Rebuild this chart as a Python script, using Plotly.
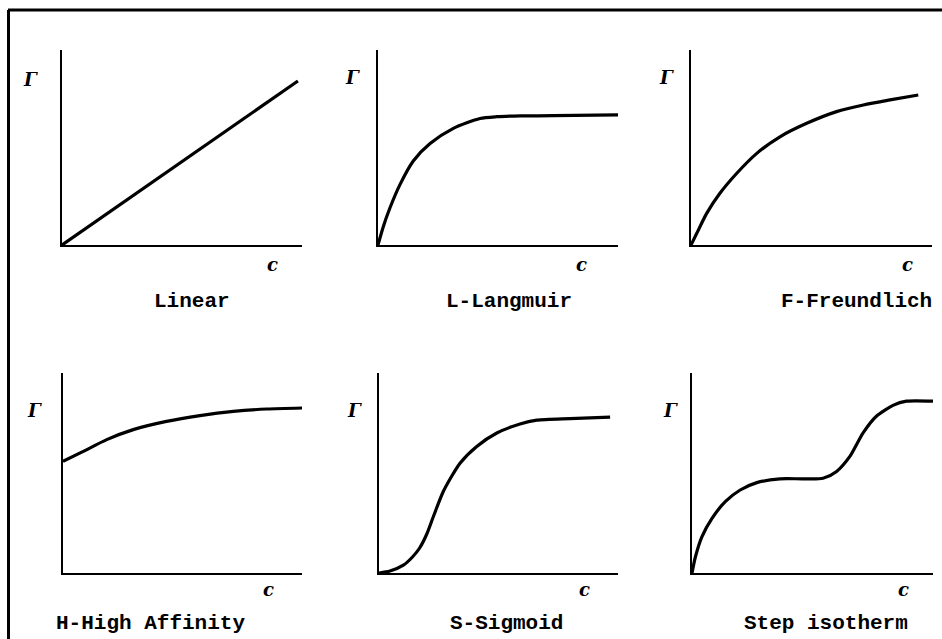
import plotly.graph_objects as go

W, H = 942, 639

titles = ["Linear", "L-Langmuir", "F-Freundlich", "H-High Affinity", "S-Sigmoid", "Step isotherm"]

linear_x = [0, 98.3]
linear_y = [0, 84.1]

langmuir_x = [0, 2.2, 5, 9.2, 14.7, 21.7, 31.4, 42.5, 49.5, 59.2, 73, 100]
langmuir_y = [0, 9.4, 19.1, 31.1, 43.1, 52, 59.8, 64.9, 65.8, 66.2, 66.3, 66.7]

freundlich_x = [0, 2.4, 6.5, 12.0, 19.0, 27.3, 36.9, 48.0, 60.4, 71.5, 82.6, 94.3]
freundlich_y = [0, 6.0, 16.2, 26.5, 36.8, 47.0, 55.5, 62.4, 68.4, 71.8, 74.4, 76.9]

high_x = [0, 8.5, 18.3, 29.4, 43.3, 57.3, 71.3, 85.2, 100]
high_y = [55.8, 60.8, 66.7, 71.7, 75.8, 78.7, 80.8, 82.0, 82.5]

sigmoid_x = [0, 4.6, 10.2, 14.0, 17.0, 20.0, 23.0, 27.0, 33.9, 40.9, 49.3, 59.0, 66.0, 79.9, 96.7]
sigmoid_y = [0, 1.0, 3.9, 8.0, 12.5, 19.5, 29.0, 41.0, 54.9, 63.3, 70.0, 74.5, 76.4, 77.2, 77.9]

step_x = [0, 1.4, 4.1, 8.3, 13.8, 20.0, 26.9, 36.5, 46.2, 54.4, 60.0, 65.5, 71.0, 76.5, 83.4, 89.0, 100]
step_y = [0, 8.0, 18.1, 27.3, 35.7, 41.5, 45.2, 47.1, 47.1, 47.4, 50.8, 58.3, 70.1, 78.4, 83.8, 85.9, 85.9]

series = [
    (linear_x, linear_y, "linear"),
    (langmuir_x, langmuir_y, "spline"),
    (freundlich_x, freundlich_y, "spline"),
    (high_x, high_y, "spline"),
    (sigmoid_x, sigmoid_y, "spline"),
    (step_x, step_y, "spline"),
]

# panel boxes in pixels: (x_left, x_right, y_top, y_bottom)
boxes = [
    (62, 302, 50, 245),
    (378, 618, 50, 245),
    (691, 932, 50, 245),
    (63, 302, 373, 573),
    (379, 618, 373, 573),
    (692, 933, 373, 573),
]
gamma_pos = [(30, 79), (352, 78), (666, 78), (34, 410), (354, 410), (670, 410)]
c_pos = [(272, 264), (581, 264), (907, 264), (268, 589), (584, 589), (903, 589)]
title_pos = [(192, 301), (509, 301), (856, 301), (150, 623), (506, 623), (826, 623)]

FONT = "DejaVu Serif"
TITLE_FONT = "Liberation Mono"

def px(x):
    return x / W

def py(y):
    return 1 - y / H

fig = go.Figure()
layout = dict(
    width=W, height=H,
    margin=dict(l=0, r=0, t=0, b=0),
    paper_bgcolor="white", plot_bgcolor="white",
    showlegend=False,
    font=dict(family=FONT, color="black"),
)
annotations = []
for i, ((xs, ys, shape), (xl, xr, yt, yb)) in enumerate(zip(series, boxes)):
    n = "" if i == 0 else str(i + 1)
    fig.add_trace(go.Scatter(
        x=xs, y=ys, mode="lines",
        line=dict(color="black", width=3.2, shape=shape, smoothing=0.7),
        xaxis="x" + n, yaxis="y" + n, hoverinfo="skip",
    ))
    axcommon = dict(showgrid=False, zeroline=False, showticklabels=False, ticks="",
                    showline=True, linecolor="black", linewidth=2.2, mirror=False, fixedrange=True)
    layout["xaxis" + n] = dict(domain=[px(xl), px(xr)], range=[0, 100], anchor="y" + n, **axcommon)
    layout["yaxis" + n] = dict(domain=[py(yb), py(yt)], range=[0, 100], anchor="x" + n, **axcommon)
    gx, gy = gamma_pos[i]
    annotations.append(dict(x=px(gx), y=py(gy), xref="paper", yref="paper", text="<i><b>Γ</b></i>",
                            showarrow=False, font=dict(size=18, family=FONT), xanchor="center", yanchor="middle"))
    cx, cy = c_pos[i]
    annotations.append(dict(x=px(cx), y=py(cy), xref="paper", yref="paper", text="<i><b>c</b></i>",
                            showarrow=False, font=dict(size=18, family=FONT), xanchor="center", yanchor="middle"))
    tx, ty = title_pos[i]
    annotations.append(dict(x=px(tx), y=py(ty), xref="paper", yref="paper", text="<b>" + titles[i] + "</b>",
                            showarrow=False, font=dict(size=21, family=TITLE_FONT), xanchor="center", yanchor="middle"))

layout["annotations"] = annotations
layout["shapes"] = [
    dict(type="line", xref="paper", yref="paper", x0=px(8), x1=1, y0=py(10), y1=py(10),
         line=dict(color="black", width=3)),
    dict(type="line", xref="paper", yref="paper", x0=px(8.5), x1=px(8.5), y0=py(10), y1=0,
         line=dict(color="black", width=3)),
]
fig.update_layout(**layout)
fig.write_html("out.html", config={"displayModeBar": False, "staticPlot": True},
               post_script="document.body.style.margin='0px';document.body.style.overflow='hidden';")
